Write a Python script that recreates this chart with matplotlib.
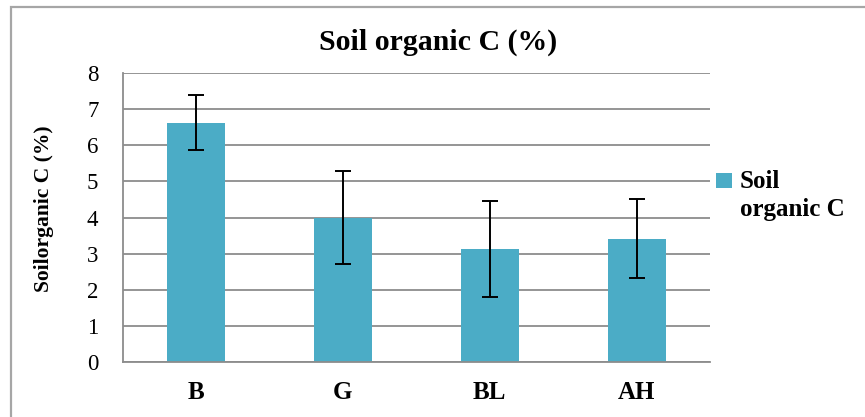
import matplotlib
matplotlib.use("Agg")
import matplotlib.pyplot as plt
from matplotlib.patches import Rectangle

categories = ["B", "G", "BL", "AH"]
values = [6.63, 4.00, 3.13, 3.41]
errors = [0.77, 1.30, 1.33, 1.10]
yticks = [0, 1, 2, 3, 4, 5, 6, 7, 8]

W, H = 865, 417
fig = plt.figure(figsize=(W / 100, H / 100), dpi=100)
serif = ["Liberation Serif", "DejaVu Serif"]

# chart frame
fig.patches.append(Rectangle((10.7 / W, -0.1), 1.2, 1.1 - 6.7 / H,
                             transform=fig.transFigure, fill=False,
                             edgecolor="#a6a6a6", linewidth=1.6))

ax = fig.add_axes([122.7 / W, 1 - 361.7 / H, (710 - 122.7) / W, (361.7 - 73.3) / H])
x = list(range(len(categories)))
ax.bar(x, values, width=0.395, color="#4bacc6", label="Soil\norganic C", zorder=2)
ax.errorbar(x, values, yerr=errors, fmt="none", ecolor="black", elinewidth=1.4,
            capsize=5.8, capthick=1.4, zorder=3)

ax.set_xlim(-0.5, 3.5)
ax.set_ylim(0, 8)
ax.set_yticks(yticks)
ax.set_yticklabels([str(t) for t in yticks], fontfamily=serif, fontsize=16.5)
ax.set_xticks(x)
ax.set_xticklabels(categories, fontfamily=serif, fontsize=18, fontweight="bold")
ax.tick_params(axis="y", length=0, pad=17.5)
ax.tick_params(axis="x", length=0, pad=14)
ax.yaxis.grid(True, color="#8c8c8c", linewidth=1.3, zorder=0)
ax.set_axisbelow(True)
for s in ["top", "right"]:
    ax.spines[s].set_visible(False)
for s in ["left", "bottom"]:
    ax.spines[s].set_color("#8c8c8c")
    ax.spines[s].set_linewidth(1.3)

fig.text(438 / W, 1 - 42 / H, "Soil organic C (%)", ha="center", va="center",
         fontfamily=serif, fontsize=21.5, fontweight="bold")
fig.text(44 / W, 1 - 209 / H, "Soilorganic C (%)", ha="center", va="center",
         rotation=90, fontfamily=serif, fontsize=15.5, fontweight="bold")

leg = fig.legend(loc="upper left", bbox_to_anchor=(716 / W, 1 - 170 / H),
                 frameon=False, prop={"family": serif, "size": 18, "weight": "bold"},
                 handlelength=0.62, handleheight=0.5, handletextpad=0.32,
                 borderpad=0, borderaxespad=0)
for t in leg.get_texts():
    t.set_linespacing(1.3)
for hp in leg.legend_handles:
    hp.set_y(hp.get_y() + 11)

fig.savefig("out.png", dpi=100)
